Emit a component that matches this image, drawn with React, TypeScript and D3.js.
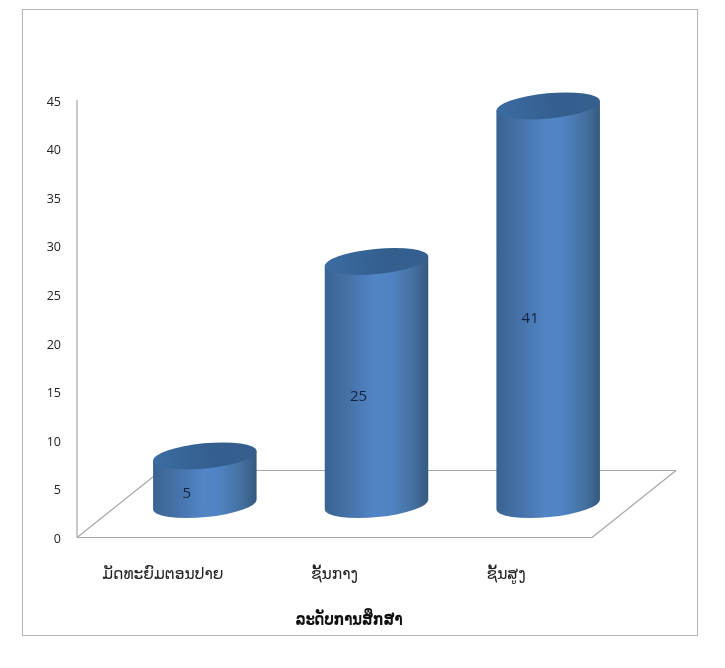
import React from "react";
import * as d3 from "d3";

const categories = ["ມັດທະຍົມຕອນປາຍ", "ຊັ້ນກາງ", "ຊັ້ນສູງ"];
const values = [5, 25, 41];
const yTicks = [0, 5, 10, 15, 20, 25, 30, 35, 40, 45];
const axisTitle = "ລະດັບການສຶກສາ";

const W = 725;
const H = 668;
const y = d3.scaleLinear().domain([0, 45]).range([537.5, 100]);
const x = d3.scaleBand<string>().domain(categories).range([77, 592]);
const depthX = 84;
const depthY = 67;
const rx = 52;
const ry = 12.6;
const tilt = -5.5;
const baseShift = 33;
const barShiftX = 42;

const rad = (tilt * Math.PI) / 180;
const dx = rx * Math.cos(rad);
const dy = rx * Math.sin(rad);

function sidePath(cx: number, top: number, bottom: number) {
  return `M${cx - dx},${top - dy}L${cx - dx},${bottom - dy}A${rx},${ry} ${tilt} 0 0 ${cx + dx},${bottom + dy}L${cx + dx},${top + dy}Z`;
}

const lao = "'DejaVu Sans', 'Noto Sans', sans-serif";
const latin = "'Open Sans', 'Noto Sans', sans-serif";
const axisColor = "#a6a6a6";

export default function App() {
  const floor0 = y(0);
  const x0 = x.range()[0];
  const x1 = x.range()[1];
  return (
    <svg
      width={W}
      height={H}
      viewBox={`0 0 ${W} ${H}`}
      style={{ position: "absolute", left: 0, top: 0, background: "#fff" }}
    >
      <defs>
        <linearGradient id="side" x1="0" x2="1" y1="0" y2="0">
          <stop offset="0" stopColor="#3a6391" />
          <stop offset="0.25" stopColor="#4673ab" />
          <stop offset="0.48" stopColor="#5285c6" />
          <stop offset="0.64" stopColor="#5083c3" />
          <stop offset="0.86" stopColor="#44709f" />
          <stop offset="1" stopColor="#34597f" />
        </linearGradient>
        <linearGradient id="cap" x1="0" x2="1" y1="0" y2="0">
          <stop offset="0" stopColor="#3b6ca3" />
          <stop offset="0.6" stopColor="#335e8e" />
          <stop offset="1" stopColor="#365f8e" />
        </linearGradient>
      </defs>
      <rect x={22.5} y={9.5} width={675} height={626} fill="#fff" stroke="#b5b5b5" strokeWidth={1} />
      <g style={{ filter: "blur(0.35px)" }}>
        <g fill="none" stroke={axisColor} strokeWidth={1.2}>
          <line x1={x0} x2={x0} y1={y(45)} y2={floor0} />
          <line x1={x0} x2={x1} y1={floor0} y2={floor0} />
          <line x1={x0} x2={x0 + depthX} y1={floor0} y2={floor0 - depthY} />
          <line x1={x1} x2={x1 + depthX} y1={floor0} y2={floor0 - depthY} />
          <line x1={x0 + depthX} x2={x1 + depthX} y1={floor0 - depthY} y2={floor0 - depthY} />
        </g>
        <g fontFamily={latin} fontSize={12.5} fill="#222" textAnchor="end">
          {yTicks.map((t) => (
            <text key={t} x={61} y={y(t) + 5.5}>
              {t}
            </text>
          ))}
        </g>
        {categories.map((c, i) => {
          const cx = (x(c) as number) + x.bandwidth() / 2 + barShiftX;
          const top = y(values[i]) - baseShift;
          const bottom = y(0) - baseShift;
          return (
            <g key={c}>
              <path d={sidePath(cx, top, bottom)} fill="url(#side)" />
              <ellipse
                cx={cx}
                cy={top}
                rx={rx}
                ry={ry}
                transform={`rotate(${tilt} ${cx} ${top})`}
                fill="url(#cap)"
              />
              <text
                x={cx - 18}
                y={(top + bottom) / 2 + 18}
                fontFamily={latin}
                fontSize={15}
                fill="#14233d"
                textAnchor="middle"
              >
                {values[i]}
              </text>
            </g>
          );
        })}
        <g fontFamily={lao} fontSize={15.5} fill="#222" textAnchor="middle">
          {categories.map((c) => (
            <text key={c} x={(x(c) as number) + x.bandwidth() / 2} y={579}>
              {c}
            </text>
          ))}
        </g>
        <text
          x={349}
          y={625}
          fontFamily={lao}
          fontSize={17}
          fontWeight="bold"
          fill="#111"
          textAnchor="middle"
          textLength={107}
          lengthAdjust="spacingAndGlyphs"
        >
          {axisTitle}
        </text>
      </g>
    </svg>
  );
}
